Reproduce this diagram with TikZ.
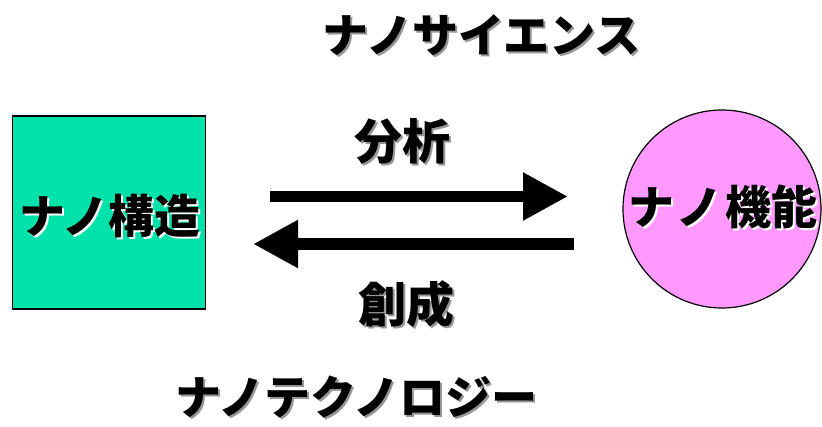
\documentclass[tikz,border=0pt]{standalone}
\usepackage{fontspec}
\newfontfamily\jp{Noto Sans CJK JP}
\usetikzlibrary{arrows.meta}
\definecolor{nanogreen}{RGB}{0,226,170}
\definecolor{nanopink}{RGB}{255,153,255}
\definecolor{shadowgray}{RGB}{150,150,150}
\tikzset{
  x=1pt, y=-1pt,
  jpfont/.style={font=\jp\bfseries\fontsize{46}{46}\selectfont, inner sep=0pt},
  lbl/.style={jpfont, text=black},
  shd/.style={jpfont, text=shadowgray},
  wshd/.style={jpfont, text=white},
  big/.style={font=\jp\bfseries\fontsize{48}{48}\selectfont},
  bigarrow/.style={line width=11.5pt, -{Triangle[length=45pt,width=45pt]}},
}
\newcommand{\gp}{\hspace{3pt}}
\begin{document}
\begin{tikzpicture}
\useasboundingbox (0,0) rectangle (822,427);
% shapes
\node[draw=black, line width=1.2pt, fill=nanogreen, minimum width=193pt, minimum height=193pt, inner sep=0pt] (struct) at (109,212.5) {};
\node[draw=black, line width=1.2pt, fill=nanopink, circle, minimum size=198pt, inner sep=0pt] (func) at (722,209) {};
% arrows
\coordinate (a1s) at (270,196.5);
\coordinate (a1e) at (568,196.5);
\coordinate (a2s) at (574,244);
\coordinate (a2e) at (253,244);
\draw[bigarrow] (a1s) -- (a1e);
\draw[bigarrow] (a2s) -- (a2e);
% texts with shadows
\node[shd] at (483.5,37) {ナノサイエンス};
\node[lbl] (sci) at (481.5,35) {ナノサイエンス};
\node[shd] at (358.5,399) {ナノテクノロジー};
\node[lbl] (tech) at (356.5,397) {ナノテクノロジー};
\node[shd, big] at (404.5,143) {分析};
\node[lbl, big] (anal) at (402.5,141) {分析};
\node[shd, big] at (408,306) {創成};
\node[lbl, big] (crea) at (406,304) {創成};
\node[wshd] at (112,218) {ナノ構造};
\node[lbl] (structlbl) at (110,216) {ナノ構造};
\node[wshd] at (725,209) {ナ\gp ノ\gp 機能};
\node[lbl] (funclbl) at (723,207) {ナ\gp ノ\gp 機能};
\end{tikzpicture}
\end{document}
